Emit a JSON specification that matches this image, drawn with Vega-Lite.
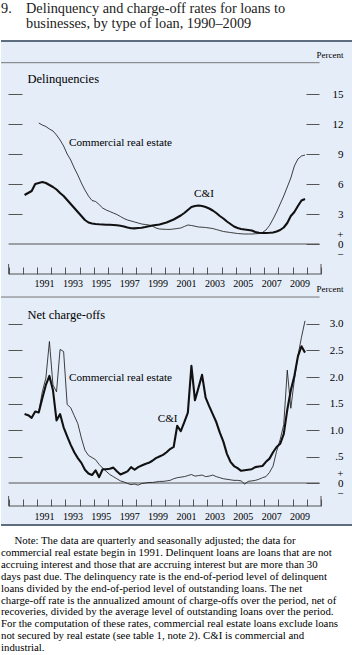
{
  "$schema": "https://vega.github.io/schema/vega-lite/v6.json",
  "background": "white",
  "padding": {"top": 2, "left": 0, "right": 0, "bottom": 0},
  "spacing": 0,
  "bounds": "flush",
  "config": {"view": {"stroke": null}, "font": "Liberation Serif"},
  "title": {
    "text": ["9.\u00a0\u00a0\u00a0\u00a0Delinquency and charge-off rates for loans to", "\u200b\u00a0\u00a0\u00a0\u00a0\u00a0\u00a0\u00a0businesses, by type of loan, 1990\u20132009"],
    "anchor": "start", "frame": "group", "baseline": "top", "font": "Liberation Serif", "fontSize": 14.3, "fontWeight": "normal", "color": "#222", "lineHeight": 15, "offset": 8.5
  },
  "datasets": {
    "del": [
      {"t":1990.125,"ci":4.9},{"t":1990.375,"ci":5.1},{"t":1990.625,"ci":5.3},{"t":1990.875,"ci":6.0},
      {"t":1991.125,"ci":6.1,"cre":12.1},{"t":1991.375,"ci":6.2,"cre":11.9},{"t":1991.625,"ci":6.1,"cre":11.75},{"t":1991.875,"ci":5.9,"cre":11.5},
      {"t":1992.125,"ci":5.7,"cre":11.3},{"t":1992.375,"ci":5.45,"cre":10.9},{"t":1992.625,"ci":5.1,"cre":10.4},{"t":1992.875,"ci":4.8,"cre":9.8},
      {"t":1993.125,"ci":4.4,"cre":9.0},{"t":1993.375,"ci":4.0,"cre":8.4},{"t":1993.625,"ci":3.6,"cre":7.6},{"t":1993.875,"ci":3.2,"cre":6.9},
      {"t":1994.125,"ci":2.8,"cre":6.1},{"t":1994.375,"ci":2.4,"cre":5.4},{"t":1994.625,"ci":2.15,"cre":4.8},{"t":1994.875,"ci":2.05,"cre":4.35},
      {"t":1995.125,"ci":2.0,"cre":4.25},{"t":1995.375,"ci":1.97,"cre":3.95},{"t":1995.625,"ci":1.95,"cre":3.6},{"t":1995.875,"ci":1.93,"cre":3.4},
      {"t":1996.125,"ci":1.92,"cre":3.25},{"t":1996.375,"ci":1.9,"cre":3.1},{"t":1996.625,"ci":1.87,"cre":2.95},{"t":1996.875,"ci":1.82,"cre":2.75},
      {"t":1997.125,"ci":1.75,"cre":2.55},{"t":1997.375,"ci":1.65,"cre":2.4},{"t":1997.625,"ci":1.58,"cre":2.3},{"t":1997.875,"ci":1.56,"cre":2.2},
      {"t":1998.125,"ci":1.6,"cre":2.1},{"t":1998.375,"ci":1.63,"cre":2.0},{"t":1998.625,"ci":1.7,"cre":1.95},{"t":1998.875,"ci":1.78,"cre":1.9},
      {"t":1999.125,"ci":1.85,"cre":1.8},{"t":1999.375,"ci":1.9,"cre":1.6},{"t":1999.625,"ci":1.95,"cre":1.5},{"t":1999.875,"ci":2.05,"cre":1.48},
      {"t":2000.125,"ci":2.15,"cre":1.46},{"t":2000.375,"ci":2.3,"cre":1.46},{"t":2000.625,"ci":2.45,"cre":1.5},{"t":2000.875,"ci":2.65,"cre":1.55},
      {"t":2001.125,"ci":2.85,"cre":1.6},{"t":2001.375,"ci":3.1,"cre":1.75},{"t":2001.625,"ci":3.4,"cre":1.9},{"t":2001.875,"ci":3.7,"cre":1.85},
      {"t":2002.125,"ci":3.8,"cre":1.78},{"t":2002.375,"ci":3.85,"cre":1.7},{"t":2002.625,"ci":3.8,"cre":1.68},{"t":2002.875,"ci":3.7,"cre":1.65},
      {"t":2003.125,"ci":3.55,"cre":1.6},{"t":2003.375,"ci":3.35,"cre":1.55},{"t":2003.625,"ci":3.1,"cre":1.45},{"t":2003.875,"ci":2.8,"cre":1.35},
      {"t":2004.125,"ci":2.55,"cre":1.25},{"t":2004.375,"ci":2.25,"cre":1.2},{"t":2004.625,"ci":2.0,"cre":1.15},{"t":2004.875,"ci":1.75,"cre":1.1},
      {"t":2005.125,"ci":1.6,"cre":1.05},{"t":2005.375,"ci":1.5,"cre":1.02},{"t":2005.625,"ci":1.45,"cre":1.0},{"t":2005.875,"ci":1.4,"cre":1.0},
      {"t":2006.125,"ci":1.35,"cre":1.0},{"t":2006.375,"ci":1.2,"cre":1.02},{"t":2006.625,"ci":1.12,"cre":1.05},{"t":2006.875,"ci":1.1,"cre":1.15},
      {"t":2007.125,"ci":1.1,"cre":1.4},{"t":2007.375,"ci":1.12,"cre":1.85},{"t":2007.625,"ci":1.15,"cre":2.5},{"t":2007.875,"ci":1.25,"cre":3.2},
      {"t":2008.125,"ci":1.4,"cre":4.0},{"t":2008.375,"ci":1.65,"cre":4.8},{"t":2008.625,"ci":2.1,"cre":5.7},{"t":2008.875,"ci":2.8,"cre":6.6},
      {"t":2009.125,"ci":3.2,"cre":7.8},{"t":2009.375,"ci":3.8,"cre":8.5},{"t":2009.625,"ci":4.35,"cre":8.8},{"t":2009.875,"ci":4.5,"cre":8.9}
    ],
    "nco": [
      {"t":1990.125,"ci":1.30},{"t":1990.375,"ci":1.28},{"t":1990.625,"ci":1.23},{"t":1990.875,"ci":1.35},
      {"t":1991.125,"ci":1.33,"cre":1.35},{"t":1991.375,"ci":1.60,"cre":1.72},{"t":1991.625,"ci":1.85,"cre":1.98},{"t":1991.875,"ci":2.02,"cre":2.67},
      {"t":1992.125,"ci":1.75,"cre":1.85},{"t":1992.375,"ci":1.18,"cre":1.72},{"t":1992.625,"ci":1.30,"cre":2.52},{"t":1992.875,"ci":1.05,"cre":2.48},
      {"t":1993.125,"ci":0.88,"cre":1.48},{"t":1993.375,"ci":0.72,"cre":1.42},{"t":1993.625,"ci":0.58,"cre":1.27},{"t":1993.875,"ci":0.47,"cre":1.12},
      {"t":1994.125,"ci":0.38,"cre":0.85},{"t":1994.375,"ci":0.25,"cre":0.62},{"t":1994.625,"ci":0.18,"cre":0.52},{"t":1994.875,"ci":0.15,"cre":0.48},
      {"t":1995.125,"ci":0.24,"cre":0.44},{"t":1995.375,"ci":0.11,"cre":0.35},{"t":1995.625,"ci":0.26,"cre":0.28},{"t":1995.875,"ci":0.26,"cre":0.22},
      {"t":1996.125,"ci":0.27,"cre":0.16},{"t":1996.375,"ci":0.29,"cre":0.12},{"t":1996.625,"ci":0.22,"cre":0.08},{"t":1996.875,"ci":0.16,"cre":0.04},
      {"t":1997.125,"ci":0.19,"cre":0.02},{"t":1997.375,"ci":0.22,"cre":-0.01},{"t":1997.625,"ci":0.30,"cre":-0.03},{"t":1997.875,"ci":0.25,"cre":-0.02},
      {"t":1998.125,"ci":0.30,"cre":-0.04},{"t":1998.375,"ci":0.33,"cre":-0.01},{"t":1998.625,"ci":0.36,"cre":0.0},{"t":1998.875,"ci":0.38,"cre":0.01},
      {"t":1999.125,"ci":0.42,"cre":0.01},{"t":1999.375,"ci":0.47,"cre":0.02},{"t":1999.625,"ci":0.50,"cre":0.03},{"t":1999.875,"ci":0.53,"cre":0.03},
      {"t":2000.125,"ci":0.58,"cre":0.04},{"t":2000.375,"ci":0.64,"cre":0.05},{"t":2000.625,"ci":0.68,"cre":0.08},{"t":2000.875,"ci":1.08,"cre":0.10},
      {"t":2001.125,"ci":0.98,"cre":0.11},{"t":2001.375,"ci":1.15,"cre":0.12},{"t":2001.625,"ci":1.33,"cre":0.14},{"t":2001.875,"ci":2.21,"cre":0.16},
      {"t":2002.125,"ci":1.56,"cre":0.13},{"t":2002.375,"ci":1.80,"cre":0.14},{"t":2002.625,"ci":2.04,"cre":0.15},{"t":2002.875,"ci":1.61,"cre":0.12},
      {"t":2003.125,"ci":1.45,"cre":0.13},{"t":2003.375,"ci":1.30,"cre":0.15},{"t":2003.625,"ci":1.15,"cre":0.12},{"t":2003.875,"ci":0.95,"cre":0.10},
      {"t":2004.125,"ci":0.78,"cre":0.08},{"t":2004.375,"ci":0.55,"cre":0.07},{"t":2004.625,"ci":0.40,"cre":0.06},{"t":2004.875,"ci":0.32,"cre":0.05},
      {"t":2005.125,"ci":0.28,"cre":0.05},{"t":2005.375,"ci":0.23,"cre":0.04},{"t":2005.625,"ci":0.24,"cre":-0.02},{"t":2005.875,"ci":0.25,"cre":0.03},
      {"t":2006.125,"ci":0.26,"cre":0.04},{"t":2006.375,"ci":0.30,"cre":0.05},{"t":2006.625,"ci":0.31,"cre":0.07},{"t":2006.875,"ci":0.32,"cre":0.10},
      {"t":2007.125,"ci":0.40,"cre":0.12},{"t":2007.375,"ci":0.46,"cre":0.20},{"t":2007.625,"ci":0.58,"cre":0.32},{"t":2007.875,"ci":0.68,"cre":0.60},
      {"t":2008.125,"ci":0.74,"cre":0.82},{"t":2008.375,"ci":0.92,"cre":1.10},{"t":2008.625,"ci":1.38,"cre":2.13},{"t":2008.875,"ci":1.75,"cre":1.41},
      {"t":2009.125,"ci":2.02,"cre":1.95},{"t":2009.375,"ci":2.39,"cre":2.40},{"t":2009.625,"ci":2.58,"cre":2.75},{"t":2009.875,"ci":2.46,"cre":3.06}
    ]
  },
  "vconcat": [
    {
      "width": 352,
      "height": 250,
      "view": {"fill": "#e5edf8", "stroke": null},
      "resolve": {"axis": {"y": "independent", "x": "independent"}},
      "layer": [
        {
          "data": {"values": [{}]},
          "mark": {"type": "rule", "color": "#555", "strokeWidth": 1},
          "encoding": {
            "x": {"datum": 1989, "type": "quantitative", "axis": null},
            "x2": {"datum": 2010.9},
            "y": {"datum": 0, "type": "quantitative", "axis": {
              "orient": "right", "offset": -47, "values": [0, 3, 6, 9, 12, 15], "tickSize": 13, "tickColor": "#555", "domain": false, "grid": false,
              "labelAlign": "right", "labelPadding": 24, "labelBaseline": "middle", "labelFontSize": 11, "labelFont": "Liberation Serif", "labelColor": "#000",
              "labelLineHeight": 10, "labelFlush": false, "labelOverlap": false,
              "labelOffset": {"condition": {"test": "datum.value == 0", "value": -10}, "value": 0},
              "labelExpr": "datum.value == 0 ? ['+', '0', '\u2212'] : datum.label",
              "title": "Percent", "titleAngle": 0, "titleAlign": "right", "titleBaseline": "middle", "titleX": 37, "titleY": 13,
              "titleFontSize": 9, "titleFontWeight": "normal", "titleFont": "Liberation Serif", "titleColor": "#000"
            }}
          }
        },
        {
          "data": {"values": [{}]},
          "mark": {"type": "rule", "color": "#5d6d7e", "strokeWidth": 2},
          "encoding": {"y": {"datum": 20.3, "type": "quantitative", "axis": null}}
        },
        {
          "data": {"values": [{}]},
          "mark": {"type": "rule", "color": "#777", "strokeWidth": 1},
          "encoding": {
            "x": {"datum": 1988.465, "type": "quantitative", "axis": null},
            "x2": {"datum": 2010.9},
            "y": {"datum": 18.13, "type": "quantitative", "axis": null}
          }
        },
        {
          "data": {"values": [{}]},
          "mark": {"type": "rule", "color": "#555", "strokeWidth": 1},
          "encoding": {
            "x": {"datum": 1989, "type": "quantitative", "axis": {
              "orient": "bottom", "offset": -24, "values": [1991,1993,1995,1997,1999,2001,2003,2005,2007,2009],
              "tickSize": 7, "tickOpacity": 0, "domain": false, "grid": false, "title": null,
              "labelOffset": 7, "labelPadding": 9, "labelBaseline": "middle", "labelFontSize": 10, "labelFont": "Liberation Serif", "labelColor": "#000",
              "labelFlush": false, "labelOverlap": false, "format": "d"
            }},
            "x2": {"datum": 2011},
            "y": {"datum": -3.0, "type": "quantitative", "axis": null}
          }
        },
        {
          "data": {"values": [{}]},
          "mark": {"type": "rule", "color": "#555", "strokeWidth": 1},
          "encoding": {
            "x": {"datum": 1989, "type": "quantitative", "axis": null},
            "y": {"datum": -2.0, "type": "quantitative", "axis": null},
            "y2": {"datum": -3.0}
          }
        },
        {
          "data": {"values": [{}]},
          "mark": {"type": "rule", "color": "#555", "strokeWidth": 1},
          "encoding": {
            "x": {"datum": 2011, "type": "quantitative", "axis": null},
            "y": {"datum": -2.0, "type": "quantitative", "axis": null},
            "y2": {"datum": -3.0}
          }
        },
        {
          "data": {"name": "del"},
          "transform": [{"fold": ["ci", "cre"], "as": ["series", "v"]}, {"filter": "isValid(datum.v)"}],
          "mark": {"type": "line", "color": "#111", "strokeJoin": "round"},
          "encoding": {
            "x": {"field": "t", "type": "quantitative",
              "scale": {"domain": [1988.465, 2013.254], "nice": false, "zero": false},
              "axis": {
                "orient": "bottom", "offset": -24, "values": [1989,1990,1991,1992,1993,1994,1995,1996,1997,1998,1999,2000,2001,2002,2003,2004,2005,2006,2007,2008,2009,2010,2011],
                "tickSize": 7, "tickColor": "#555", "domain": false, "grid": false, "title": null, "labels": false
              }
            },
            "y": {"field": "v", "type": "quantitative",
              "scale": {"domain": [-4.7, 20.3], "nice": false, "zero": false},
              "axis": {
                "orient": "left", "offset": -21, "values": [3, 6, 9, 12, 15], "tickSize": 14, "tickColor": "#555", "domain": false, "labels": false, "grid": false,
                "title": "Delinquencies", "titleAngle": 0, "titleAlign": "left", "titleBaseline": "middle", "titleX": 5, "titleY": 37,
                "titleFontSize": 12.5, "titleFontWeight": "normal", "titleFont": "Liberation Serif", "titleColor": "#000"
              }
            },
            "detail": {"field": "series"},
            "strokeWidth": {"field": "series", "type": "nominal", "scale": {"domain": ["ci", "cre"], "range": [2.1, 0.8]}, "legend": null}
          }
        },
        {
          "data": {"values": [{}]},
          "mark": {"type": "text", "align": "left", "baseline": "middle", "fontSize": 11.2, "font": "Liberation Serif", "color": "#000"},
          "encoding": {
            "x": {"datum": 1993.25, "type": "quantitative", "axis": null},
            "y": {"datum": 10.13, "type": "quantitative", "axis": null},
            "text": {"value": "Commercial real estate"}
          }
        },
        {
          "data": {"values": [{}]},
          "mark": {"type": "text", "align": "center", "baseline": "middle", "fontSize": 11.2, "font": "Liberation Serif", "color": "#000"},
          "encoding": {
            "x": {"datum": 2002.76, "type": "quantitative", "axis": null},
            "y": {"datum": 5.0, "type": "quantitative", "axis": null},
            "text": {"value": "C&I"}
          }
        }
      ]
    },
    {
      "width": 352,
      "height": 234,
      "view": {"fill": "#e5edf8", "stroke": null},
      "resolve": {"axis": {"y": "independent", "x": "independent"}},
      "title": {
        "text": [
          "\u200b\u00a0\u00a0\u00a0\u00a0\u00a0Note: The data are quarterly and seasonally adjusted; the data for",
          "commercial real estate begin in 1991. Delinquent loans are loans that are not",
          "accruing interest and those that are accruing interest but are more than 30",
          "days past due. The delinquency rate is the end-of-period level of delinquent",
          "loans divided by the end-of-period level of outstanding loans. The net",
          "charge-off rate is the annualized amount of charge-offs over the period, net of",
          "recoveries, divided by the average level of outstanding loans over the period.",
          "For the computation of these rates, commercial real estate loans exclude loans",
          "not secured by real estate (see table 1, note 2). C&I is commercial and",
          "industrial."
        ],
        "orient": "bottom", "anchor": "start", "frame": "group", "baseline": "top",
        "font": "Liberation Serif", "fontSize": 10.8, "fontWeight": "normal", "color": "#000", "lineHeight": 11.9, "offset": 9
      },
      "layer": [
        {
          "data": {"values": [{}]},
          "mark": {"type": "rule", "color": "#555", "strokeWidth": 1},
          "encoding": {
            "x": {"datum": 1989, "type": "quantitative", "axis": null},
            "x2": {"datum": 2010.9},
            "y": {"datum": 0, "type": "quantitative", "axis": {
              "orient": "right", "offset": -47, "values": [0, 0.5, 1, 1.5, 2, 2.5, 3], "tickSize": 13, "tickColor": "#555", "domain": false, "grid": false,
              "labelAlign": "right", "labelPadding": 24, "labelBaseline": "middle", "labelFontSize": 11, "labelFont": "Liberation Serif", "labelColor": "#000",
              "labelLineHeight": 10, "labelFlush": false, "labelOverlap": false,
              "labelOffset": {"condition": {"test": "datum.value == 0", "value": -10}, "value": 0},
              "labelExpr": "datum.value == 0 ? ['+', '0', '\u2212'] : (datum.value == 0.5 ? '.5' : format(datum.value, '.1f'))",
              "title": "Percent", "titleAngle": 0, "titleAlign": "right", "titleBaseline": "middle", "titleX": 37, "titleY": -3,
              "titleFontSize": 9, "titleFontWeight": "normal", "titleFont": "Liberation Serif", "titleColor": "#000"
            }}
          }
        },
        {
          "data": {"values": [{}]},
          "mark": {"type": "rule", "color": "#5d6d7e", "strokeWidth": 2},
          "encoding": {"y": {"datum": -0.79245, "type": "quantitative", "axis": null}}
        },
        {
          "data": {"values": [{}]},
          "mark": {"type": "rule", "color": "#777", "strokeWidth": 1},
          "encoding": {
            "x": {"datum": 1988.465, "type": "quantitative", "axis": null},
            "x2": {"datum": 2010.9},
            "y": {"datum": 3.509, "type": "quantitative", "axis": null}
          }
        },
        {
          "data": {"values": [{}]},
          "mark": {"type": "rule", "color": "#555", "strokeWidth": 1},
          "encoding": {
            "x": {"datum": 1989, "type": "quantitative", "axis": {
              "orient": "bottom", "offset": -26, "values": [1991,1993,1995,1997,1999,2001,2003,2005,2007,2009],
              "tickSize": 7, "tickOpacity": 0, "domain": false, "grid": false, "title": null,
              "labelOffset": 7, "labelPadding": 10, "labelBaseline": "middle", "labelFontSize": 10, "labelFont": "Liberation Serif", "labelColor": "#000",
              "labelFlush": false, "labelOverlap": false, "format": "d"
            }},
            "x2": {"datum": 2011},
            "y": {"datum": -0.434, "type": "quantitative", "axis": null}
          }
        },
        {
          "data": {"values": [{}]},
          "mark": {"type": "rule", "color": "#555", "strokeWidth": 1},
          "encoding": {
            "x": {"datum": 1989, "type": "quantitative", "axis": null},
            "y": {"datum": -0.245, "type": "quantitative", "axis": null},
            "y2": {"datum": -0.434}
          }
        },
        {
          "data": {"values": [{}]},
          "mark": {"type": "rule", "color": "#555", "strokeWidth": 1},
          "encoding": {
            "x": {"datum": 2011, "type": "quantitative", "axis": null},
            "y": {"datum": -0.245, "type": "quantitative", "axis": null},
            "y2": {"datum": -0.434}
          }
        },
        {
          "data": {"name": "nco"},
          "transform": [{"fold": ["ci", "cre"], "as": ["series", "v"]}, {"filter": "isValid(datum.v)"}],
          "mark": {"type": "line", "color": "#111", "strokeJoin": "round"},
          "encoding": {
            "x": {"field": "t", "type": "quantitative",
              "scale": {"domain": [1988.465, 2013.254], "nice": false, "zero": false},
              "axis": {
                "orient": "bottom", "offset": -26, "values": [1989,1990,1991,1992,1993,1994,1995,1996,1997,1998,1999,2000,2001,2002,2003,2004,2005,2006,2007,2008,2009,2010,2011],
                "tickSize": 7, "tickColor": "#555", "domain": false, "grid": false, "title": null, "labels": false
              }
            },
            "y": {"field": "v", "type": "quantitative",
              "scale": {"domain": [-0.79245, 3.62264], "nice": false, "zero": false},
              "axis": {
                "orient": "left", "offset": -21, "values": [0.5, 1, 1.5, 2, 2.5, 3], "tickSize": 14, "tickColor": "#555", "domain": false, "labels": false, "grid": false,
                "title": "Net charge-offs", "titleAngle": 0, "titleAlign": "left", "titleBaseline": "middle", "titleX": 5, "titleY": 23,
                "titleFontSize": 12.5, "titleFontWeight": "normal", "titleFont": "Liberation Serif", "titleColor": "#000"
              }
            },
            "detail": {"field": "series"},
            "strokeWidth": {"field": "series", "type": "nominal", "scale": {"domain": ["ci", "cre"], "range": [2.1, 0.8]}, "legend": null}
          }
        },
        {
          "data": {"values": [{}]},
          "mark": {"type": "text", "align": "left", "baseline": "middle", "fontSize": 11.2, "font": "Liberation Serif", "color": "#000"},
          "encoding": {
            "x": {"datum": 1993.25, "type": "quantitative", "axis": null},
            "y": {"datum": 1.987, "type": "quantitative", "axis": null},
            "text": {"value": "Commercial real estate"}
          }
        },
        {
          "data": {"values": [{}]},
          "mark": {"type": "text", "align": "center", "baseline": "middle", "fontSize": 11.2, "font": "Liberation Serif", "color": "#000"},
          "encoding": {
            "x": {"datum": 2000.2, "type": "quantitative", "axis": null},
            "y": {"datum": 1.208, "type": "quantitative", "axis": null},
            "text": {"value": "C&I"}
          }
        }
      ]
    }
  ]
}
